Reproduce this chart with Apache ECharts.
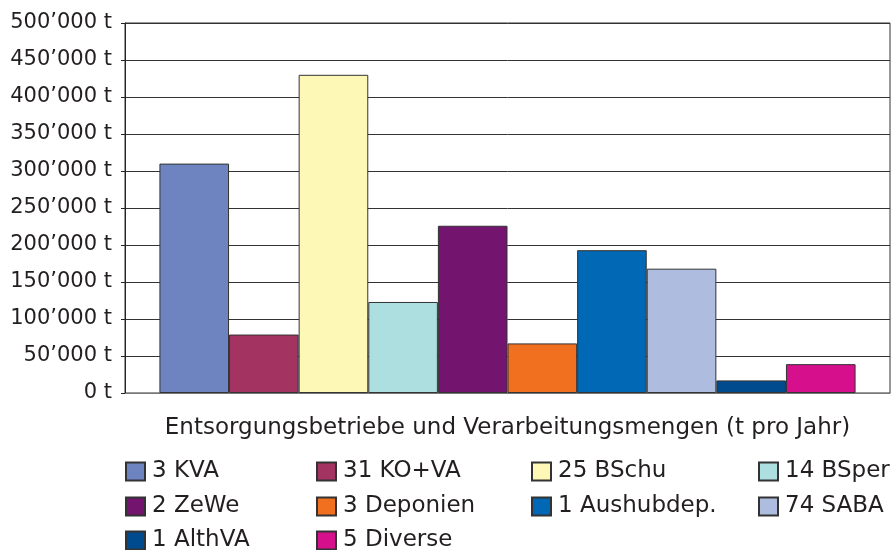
<!DOCTYPE html>
<html>
<head>
<meta charset="utf-8">
<script src="https://cdn.jsdelivr.net/npm/echarts@6/dist/echarts.min.js"></script>
<style>
  html, body { margin: 0; padding: 0; background: #fff; }
  #chart { width: 891px; height: 550px; }
</style>
</head>
<body>
<div id="chart"></div>
<script>
// Betriebe (Legende) und Mengen in t pro Jahr
var names = ['3 KVA', '31 KO+VA', '25 BSchu', '14 BSper', '2 ZeWe', '3 Deponien', '1 Aushubdep.', '74 SABA', '1 AlthVA', '5 Diverse'];
var values = [310000, 79000, 430000, 123000, 226000, 67000, 193000, 168000, 17000, 39000];
var colors = ['#6e84c0', '#a33360', '#fdf8b6', '#aedfe0', '#73146f', '#f07020', '#0068b4', '#aebce0', '#004a8e', '#d60f8c'];
var yTicks = [0, 50000, 100000, 150000, 200000, 250000, 300000, 350000, 400000, 450000, 500000];
var xName = 'Entsorgungsbetriebe und Verarbeitungsmengen (t pro Jahr)';

// Legende: 4 Spalten, 3 Zeilen (Reihenfolge wie Serien)
var legendLeft = [125, 316, 531, 758];
var legendTop = [460, 495, 529];

var font = 'DejaVu Sans, sans-serif';

function fmt(v) {
	var s = String(v);
	return s.replace(/\B(?=(\d{3})+(?!\d))/g, '\u2019') + ' t';
}

var myChart = echarts.init(document.getElementById('chart'));
var option = {
	animation: false,
	backgroundColor: '#fff',
	textStyle: { fontFamily: font },
	grid: {
		left: 125,
		right: 1,
		top: 23,
		bottom: 157,
		show: true,
		borderColor: '#333',
		borderWidth: 1
	},
	legend: names.map(function (n, i) {
		return {
			data: [n],
			left: legendLeft[i % 4],
			top: legendTop[Math.floor(i / 4)],
			padding: 0,
			icon: 'rect',
			itemWidth: 19,
			itemHeight: 18,
			textStyle: { fontSize: 23, lineHeight: 18, color: '#231f20', fontFamily: font, padding: [0, 0, 0, 2] },
			selectedMode: false
		};
	}),
	xAxis: {
		type: 'category',
		data: [''],
		axisLine: { lineStyle: { color: '#777', width: 1 } },
		axisTick: { show: false },
		axisLabel: { show: false },
		name: xName,
		nameLocation: 'middle',
		nameGap: 24,
		nameTextStyle: { fontSize: 23, color: '#231f20', fontFamily: font }
	},
	yAxis: {
		type: 'value',
		min: yTicks[0],
		max: yTicks[yTicks.length - 1],
		interval: 50000,
		axisLine: { show: true, lineStyle: { color: '#222', width: 1 } },
		axisTick: { show: true, length: 4, lineStyle: { color: '#222' } },
		axisLabel: {
			formatter: fmt,
			fontSize: 21,
			color: '#231f20',
			margin: 13,
			fontFamily: font
		},
		splitLine: { lineStyle: { color: '#333', width: 1 } }
	},
	series: names.map(function (n, i) {
		return {
			name: n,
			type: 'bar',
			data: [values[i]],
			barGap: 0,
			barCategoryGap: '9%',
			itemStyle: {
				color: colors[i],
				borderColor: '#333',
				borderWidth: 1
			}
		};
	})
};
myChart.setOption(option);
</script>
</body>
</html>
